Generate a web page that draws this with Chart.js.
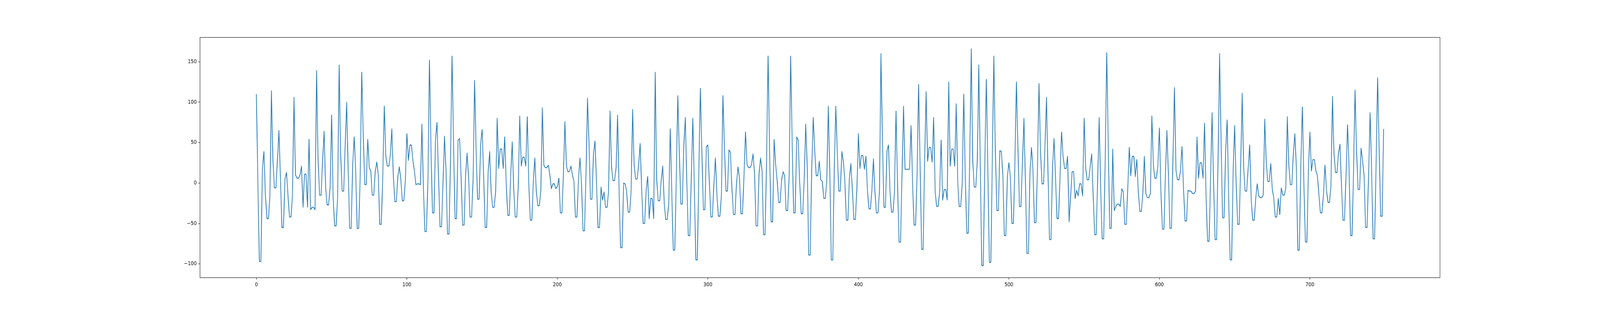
<!DOCTYPE html>
<html>
<head>
<meta charset="utf-8">
<title>Series</title>
<script src="https://cdn.jsdelivr.net/npm/chart.js@4.4.1/dist/chart.umd.min.js"></script>
<style>
  html, body { margin: 0; padding: 0; background: #fff; overflow: hidden; }
  canvas { display: block; }
</style>
</head>
<body>
<canvas id="chart" width="4800" height="800"></canvas>
<script>
// --- data: one value per sample (index = x) ---
const VALUES = [
  110, 0, -97, -97, 17, 39, -15, -44, -44, -16, 114, 28, -6, -6, 29, 65, 5, -55, -55, 5, 13, -15, -42, -42, -15,
  106, 10, 6, 6, 10, 21, -30, 11, 11, -30, 54, -33, -30, -30, -33, 139, 28, -15, -15, 28, 64, -5, -27, -27, -5,
  84, -17, -53, -53, -16, 146, 36, -10, -10, 46, 100, 15, -56, -56, 23, 57, 14, -56, -56, 10, 137, 60, -2, -2, 54,
  19, 15, -15, -15, 15, 26, 10, -51, -51, 10, 95, 34, 21, 21, 34, 67, 9, -23, -23, 8, 20, 4, -22, -22, 4,
  61, 28, 47, 47, 28, 15, -2, -1, -1, -2, 73, -8, -60, -60, 5, 152, 46, -37, -37, 53, 75, 10, -54, -54, 0,
  58, 15, -63, -63, 30, 157, 50, -44, -44, 53, 55, 10, -52, -52, 9, 37, 7, -42, -42, 5, 127, 40, -20, -20, 48,
  66, 10, -55, -55, 13, 39, -11, -30, -30, -10, 80, 18, 42, 42, 18, 57, 0, -40, -40, 10, 51, -8, -42, -42, -5,
  83, 21, 32, 32, 21, 82, 0, -46, -46, 1, 31, -10, -28, -28, -10, 93, 22, 19, 19, 22, 10, -7, -1, -1, -7,
  -4, 6, -37, -37, 10, 76, 21, 14, 14, 21, 10, 2, -42, -42, 3, 31, 1, -59, -59, 8, 105, 50, -20, -20, 37,
  52, 0, -55, -55, -5, -21, -11, -30, -30, -11, 89, 19, 3, 3, 19, 84, -10, -80, -80, 0, -1, -10, -36, -36, -10,
  91, 22, 5, 5, 23, 49, -8, -50, -50, -8, 8, -44, -19, -19, -44, 137, 4, -22, -22, 4, 21, -25, -45, -45, -25,
  67, -10, -83, -83, 5, 108, 40, -26, -26, 46, 81, 0, -65, -65, 10, 80, -5, -95, -95, 15, 117, 40, -33, -33, 45,
  47, 0, -42, -42, -1, 31, -15, -41, -41, -14, 108, 45, -10, -10, 41, 38, -8, -39, -39, -1, 20, 6, -38, -38, 10,
  63, 23, 19, 19, 23, 36, 12, -53, -53, 12, 31, 15, -64, -64, 30, 157, 40, -48, -48, 54, 23, 4, -24, -24, 4,
  14, 9, -34, -34, 9, 157, 50, -37, -37, 57, 53, 1, -38, -38, 5, 73, 21, -89, -89, 19, 81, 40, 9, 9, 27,
  4, 2, -19, -19, 2, 95, 15, -95, -95, 20, 95, 35, -10, -10, 39, 27, 4, -46, -46, 5, 24, -8, -45, -45, -8,
  61, 18, 34, 34, 17, 33, -8, -32, -32, -8, 30, -11, -37, -37, -11, 160, 50, -30, -30, 40, 47, -10, -36, -36, -10,
  89, 0, -73, -73, 10, 95, 17, 17, 17, 17, 71, 0, -52, -52, 10, 122, 25, -82, -82, 25, 113, 27, 44, 44, 26,
  81, -10, -29, -29, -10, 53, -21, -8, -8, -21, 125, 21, 42, 42, 21, 98, 1, -29, -29, 1, 110, 10, -62, -62, 30,
  166, 26, -5, -5, 27, 146, 20, -102, -102, 25, 128, 20, -98, -98, 30, 157, 40, -34, -34, 40, 39, 9, -65, -65, 8,
  25, 7, -50, -50, 25, 125, 45, -29, -29, 25, 80, 0, -87, -87, 14, 44, 16, -49, -49, 20, 123, 40, -1, -1, 46,
  106, 10, -70, -70, 21, 55, 5, -44, -44, 10, 63, 33, 18, 18, 33, -48, -17, 14, 14, -19, -9, -16, -1, -1, -16,
  80, 19, 4, 4, 20, 36, -15, -64, -64, 5, 81, -10, -69, -69, 30, 161, 50, -56, -56, 42, -34, -29, -26, -26, -29,
  -7, -11, -51, -51, -5, 44, 9, 33, 33, 8, 29, -11, -35, -35, -13, 33, -13, -18, -18, -13, 83, 22, 6, 6, 22,
  68, -10, -57, -57, 10, 65, 10, -56, -56, 30, 118, 16, 4, 4, 15, 45, -5, -47, -47, -9, -10, -10, -13, -13, -10,
  57, 6, 25, 25, 6, 74, -15, -72, -72, 5, 87, 0, -70, -70, 30, 160, 50, -43, -43, 39, 78, -15, -95, -95, 15,
  71, 0, -51, -51, 20, 111, 18, -10, -10, 19, 47, -20, -46, -46, -19, -1, -16, -18, -18, -15, 79, 25, 2, 2, 24,
  -7, -19, -42, -42, -19, -39, -6, -15, -15, -6, 82, 22, -2, -2, 36, 61, 19, -83, -83, 25, 94, 0, -73, -73, 15,
  63, 15, 29, 29, 15, 9, -15, -37, -37, -15, 22, -8, -24, -24, -3, 107, 37, 13, 13, 37, 48, -5, -46, -46, 10,
  72, 20, -65, -65, 15, 115, 40, -8, -8, 43, 28, 9, -55, -55, 10, 87, 15, -69, -69, 25, 130, 45, -41, -41, 67
];

// --- axes ---
const X_TICKS = [0, 100, 200, 300, 400, 500, 600, 700];
const Y_TICKS = [-100, -50, 0, 50, 100, 150];
const X_LIMITS = [-37.45, 786.45];
const Y_LIMITS = [-117, 180];

const LINE_COLOR = '#1f77b4';
const TICK_FONT = { family: 'DejaVu Sans', size: 13.9 };

// matplotlib uses a real minus sign on tick labels
const fmt = v => (v < 0 ? '\u2212' + Math.abs(v) : String(v));

// box around the plot area (all four spines)
const framePlugin = {
  id: 'frame',
  afterDraw(chart) {
    const { ctx, chartArea: a } = chart;
    ctx.save();
    ctx.strokeStyle = '#000';
    ctx.lineWidth = 1.1;
    ctx.strokeRect(a.left, a.top, a.right - a.left, a.bottom - a.top);
    ctx.restore();
  }
};

const canvas = document.getElementById('chart');
const points = VALUES.map((v, i) => ({ x: i, y: v }));

// drawn as a 4800x800 figure (matplotlib default margins)
new Chart(canvas.getContext('2d'), {
  type: 'line',
  data: {
    datasets: [{
      data: points,
      borderColor: LINE_COLOR,
      borderWidth: 2.1,
      borderJoinStyle: 'round',
      pointRadius: 0,
      tension: 0,
      fill: false
    }]
  },
  options: {
    responsive: false,
    devicePixelRatio: 1,
    animation: false,
    layout: { padding: { top: 96, right: 480, bottom: 0, left: 0 } },
    plugins: { legend: { display: false }, tooltip: { enabled: false } },
    scales: {
      x: {
        type: 'linear',
        min: X_LIMITS[0],
        max: X_LIMITS[1],
        afterFit: s => { s.height = 88; },
        afterBuildTicks: s => { s.ticks = X_TICKS.map(v => ({ value: v })); },
        border: { display: false },
        grid: { drawOnChartArea: false, drawTicks: true, tickLength: 5, tickWidth: 1.1, tickColor: '#000' },
        ticks: { color: '#000', font: TICK_FONT, padding: 5, maxRotation: 0, autoSkip: false, callback: fmt }
      },
      y: {
        type: 'linear',
        min: Y_LIMITS[0],
        max: Y_LIMITS[1],
        afterFit: s => { s.width = 600; },
        afterBuildTicks: s => { s.ticks = Y_TICKS.map(v => ({ value: v })); },
        border: { display: false },
        grid: { drawOnChartArea: false, drawTicks: true, tickLength: 5, tickWidth: 1.1, tickColor: '#000' },
        ticks: { color: '#000', font: TICK_FONT, padding: 5, autoSkip: false, callback: fmt }
      }
    }
  },
  plugins: [framePlugin]
});

// the window may be narrower than 4800 css px: fit the whole figure into it
canvas.style.width = window.innerWidth + 'px';
canvas.style.height = window.innerHeight + 'px';
</script>
</body>
</html>
